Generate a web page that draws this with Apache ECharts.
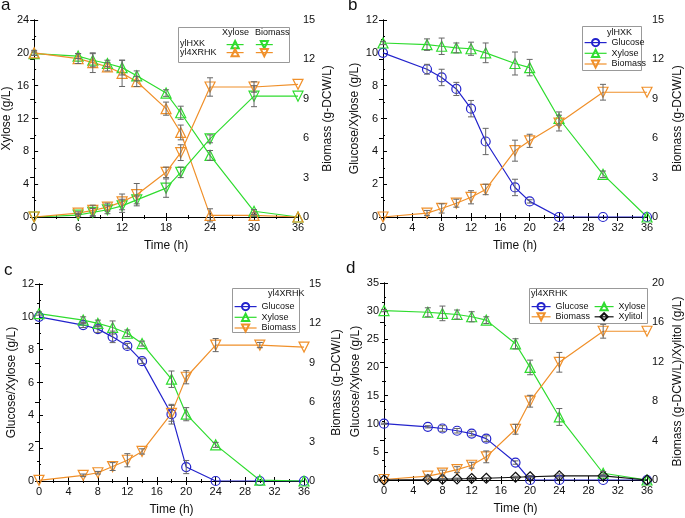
<!DOCTYPE html>
<html><head><meta charset="utf-8">
<script src="https://cdn.jsdelivr.net/npm/echarts@6/dist/echarts.min.js"></script>
<style>html,body{margin:0;padding:0;background:#fff}#c{width:685px;height:518px}</style>
</head><body><div id="c"></div>
<script>
const time = [0,6,8,10,12,14,18,20,24,30,36];

// Panel a
const aXylHXK    = [19.9,19.6,19.1,18.7,18.2,17.2,15.1,12.7,7.5,0.7,0];
const aXylHXKErr = [0.2,0.3,0.8,0.4,0.9,0.6,0.4,0.8,0.6,0.2,0];
const aXyl4XR    = [20.0,19.3,18.8,18.3,17.5,16.5,13.2,10.3,0.2,0.2,0];
const aXyl4XRErr = [0.3,0.6,1.2,0.5,1.6,0.6,0.8,0.9,0.8,0.1,0];
const aBioHXK    = [0,0.15,0.35,0.55,0.85,1.3,2.2,3.4,5.95,9.2,9.2];
const aBioHXKErr = [0,0.1,0.3,0.3,0.5,0.3,0.7,0.4,0.3,0.8,0];
const aBio4XR    = [0,0.3,0.5,0.75,1.15,1.7,3.4,4.9,9.9,9.9,10.1];
const aBio4XRErr = [0,0.1,0.4,0.3,0.6,0.85,0.4,0.6,0.7,0.4,0];

// Panel b (ylHXK)
const bGlc    = [10.0,9.0,8.5,7.8,6.6,4.6,1.8,0.95,0,0,0];
const bGlcErr = [0,0.3,0.5,0.4,0.5,0.8,0.5,0.1,0,0,0];
const bXyl    = [10.6,10.5,10.4,10.3,10.25,10.0,9.35,9.1,6.0,2.6,0];
const bXylErr = [0.1,0.35,0.5,0.3,0.4,0.6,0.7,0.5,0.4,0.2,0];
const bBio    = [0,0.3,0.65,1.05,1.5,2.1,5.05,5.8,7.15,9.5,9.5];
const bBioErr = [0,0.2,0.35,0.3,0.5,0.4,0.8,0.5,0.6,0.6,0];

// Panel c (yl4XRHK)
const cGlc    = [10.0,9.5,9.25,8.78,8.23,7.3,4.07,0.85,0,0,0];
const cGlcErr = [0,0.15,0.2,0.35,0.15,0.15,0.6,0.4,0,0,0];
const cXyl    = [10.2,9.8,9.6,9.35,9.0,8.37,6.2,4.07,2.2,0.05,0];
const cXylErr = [0.1,0.2,0.2,0.4,0.2,0.15,0.5,0.4,0.15,0,0];
const cBio    = [0.05,0.43,0.63,1.1,1.58,2.25,5.15,7.9,10.35,10.35,10.2];
const cBioErr = [0,0.1,0.1,0.3,0.5,0.2,0.6,0.5,0.5,0.2,0];

// Panel d (yl4XRHK)
const dGlc    = [10.0,9.45,9.15,8.75,8.25,7.35,3.1,0,0,0,0];
const dGlcErr = [0.1,0.2,0.5,0.4,0.4,0.5,0.3,0,0,0,0];
const dXyl    = [30.1,29.8,29.6,29.4,29.0,28.4,24.2,20.0,11.2,1.2,0];
const dXylErr = [0.2,0.8,1.3,0.8,0.9,0.6,0.9,1.3,1.5,0.3,0];
const dBio    = [0.05,0.4,0.7,1.05,1.5,2.35,5.15,8.0,11.95,15.1,15.1];
const dBioErr = [0,0.1,0.3,0.3,0.3,0.6,0.5,0.6,1.0,0.7,0];
const dXlt    = [0,0.05,0.08,0.1,0.15,0.18,0.28,0.33,0.42,0.42,0];
const dXltErr = [0,0.05,0.05,0.1,0.1,0.05,0.1,0.1,0.2,0.1,0];

const GREEN = '#2fdc2f', ORANGE = '#f0902a', BLUE = '#2323cc', BLACK = '#111111', ERR = '#666666';
const FONT = 'Liberation Sans, Arial, sans-serif';

function lineS(name, k, yi, data, color, symbol, rot) {
  return {
    type: 'line', name, xAxisIndex: 2*k, yAxisIndex: 2*k + yi,
    data: time.map((t, i) => [t, data[i]]),
    symbol, symbolSize: symbol === 'circle' ? 9 : 10, symbolRotate: rot || 0,
    color, lineStyle: { color, width: 1.2 },
    itemStyle: { color: 'rgba(255,255,255,0)', borderColor: color, borderWidth: 1.2 },
    showAllSymbol: true, z: 3, animation: false, emphasis: { disabled: true }
  };
}
function errS(k, yi, data, err) {
  return {
    type: 'custom', xAxisIndex: 2*k, yAxisIndex: 2*k + yi, z: 4, animation: false, silent: true,
    data: time.map((t, i) => [t, data[i], err[i]]),
    encode: { x: 0, y: 1 },
    renderItem: function (params, api) {
      const x = api.value(0), y = api.value(1), e = api.value(2);
      if (!e) return null;
      const hi = api.coord([x, y + e]), lo = api.coord([x, y - e]);
      const w = 3, st = { stroke: ERR, lineWidth: 1 };
      return { type: 'group', children: [
        { type: 'line', shape: { x1: hi[0], y1: hi[1], x2: lo[0], y2: lo[1] }, style: st },
        { type: 'line', shape: { x1: hi[0]-w, y1: hi[1], x2: hi[0]+w, y2: hi[1] }, style: st },
        { type: 'line', shape: { x1: lo[0]-w, y1: lo[1], x2: lo[0]+w, y2: lo[1] }, style: st }
      ]};
    }
  };
}

const grids = [
  { left: 33, top: 20, width: 265, height: 197 },
  { left: 383, top: 20, width: 265, height: 197 },
  { left: 39, top: 284, width: 265, height: 197 },
  { left: 384, top: 283, width: 265, height: 197 }
];
const xInt = [6, 4, 4, 4];
const yL = [{max: 24, interval: 4, name: 'Xylose (g/L)'}, {max: 12, interval: 2, name: 'Glucose/Xylose (g/L)'},
            {max: 12, interval: 2, name: 'Glucose/Xylose (g/L)'}, {max: 35, interval: 5, name: 'Glucose/Xylose (g/L)'}];
const yR = [{max: 15, interval: 3, name: 'Biomass (g-DCW/L)'}, {max: 15, interval: 3, name: 'Biomass (g-DCW/L)'},
            {max: 15, interval: 3, name: 'Biomass (g-DCW/L)'}, {max: 20, interval: 4, name: 'Biomass (g-DCW/L)/Xylitol (g/L)'}];
const rGap = [24, 25, 27, 25];

const axLine = { show: true, lineStyle: { color: '#000', width: 1 } };
const tick = { show: true, inside: true, length: 4, lineStyle: { color: '#000' } };
const minor = { show: true, splitNumber: 2, length: 2, lineStyle: { color: '#000' } };
const lbl = { fontSize: 11, color: '#111', fontFamily: FONT, margin: 5 };
const nameTs = { fontSize: 12, color: '#111', fontFamily: FONT };

const xAxis = [], yAxis = [];
grids.forEach((g, k) => {
  xAxis.push({ type: 'value', gridIndex: k, min: 0, max: 36, interval: xInt[k], position: 'bottom',
    axisLine: axLine, axisTick: tick, minorTick: minor, splitLine: { show: false }, axisLabel: lbl,
    name: 'Time (h)', nameLocation: 'middle', nameGap: 23, nameTextStyle: nameTs });
  xAxis.push({ type: 'value', gridIndex: k, min: 0, max: 36, interval: xInt[k], position: 'top',
    axisLine: axLine, axisTick: tick, minorTick: minor, splitLine: { show: false }, axisLabel: { show: false } });
  yAxis.push({ type: 'value', gridIndex: k, min: 0, max: yL[k].max, interval: yL[k].interval, position: 'left',
    axisLine: axLine, axisTick: tick, minorTick: minor, splitLine: { show: false }, axisLabel: lbl,
    name: yL[k].name, nameLocation: 'middle', nameGap: k === 1 || k === 3 ? 22 : 20, nameTextStyle: nameTs });
  yAxis.push({ type: 'value', gridIndex: k, min: 0, max: yR[k].max, interval: yR[k].interval, position: 'right',
    axisLine: axLine, axisTick: tick, minorTick: minor, splitLine: { show: false }, axisLabel: lbl,
    name: yR[k].name, nameLocation: 'middle', nameGap: rGap[k], nameTextStyle: nameTs });
});

const DOWN = 180;
const series = [
  // a
  lineS('a:ylHXK Xylose', 0, 0, aXylHXK, GREEN, 'triangle'),
  lineS('a:yl4XRHK Xylose', 0, 0, aXyl4XR, ORANGE, 'triangle'),
  lineS('a:ylHXK Biomass', 0, 1, aBioHXK, GREEN, 'triangle', DOWN),
  lineS('a:yl4XRHK Biomass', 0, 1, aBio4XR, ORANGE, 'triangle', DOWN),
  errS(0, 0, aXylHXK, aXylHXKErr), errS(0, 0, aXyl4XR, aXyl4XRErr),
  errS(0, 1, aBioHXK, aBioHXKErr), errS(0, 1, aBio4XR, aBio4XRErr),
  // b
  lineS('b:Glucose', 1, 0, bGlc, BLUE, 'circle'),
  lineS('b:Xylose', 1, 0, bXyl, GREEN, 'triangle'),
  lineS('b:Biomass', 1, 1, bBio, ORANGE, 'triangle', DOWN),
  errS(1, 0, bGlc, bGlcErr), errS(1, 0, bXyl, bXylErr), errS(1, 1, bBio, bBioErr),
  // c
  lineS('c:Glucose', 2, 0, cGlc, BLUE, 'circle'),
  lineS('c:Xylose', 2, 0, cXyl, GREEN, 'triangle'),
  lineS('c:Biomass', 2, 1, cBio, ORANGE, 'triangle', DOWN),
  errS(2, 0, cGlc, cGlcErr), errS(2, 0, cXyl, cXylErr), errS(2, 1, cBio, cBioErr),
  // d
  lineS('d:Glucose', 3, 0, dGlc, BLUE, 'circle'),
  lineS('d:Xylose', 3, 0, dXyl, GREEN, 'triangle'),
  lineS('d:Biomass', 3, 1, dBio, ORANGE, 'triangle', DOWN),
  lineS('d:Xylitol', 3, 1, dXlt, BLACK, 'diamond'),
  errS(3, 0, dGlc, dGlcErr), errS(3, 0, dXyl, dXylErr), errS(3, 1, dBio, dBioErr), errS(3, 1, dXlt, dXltErr)
];

const lgText = { fontSize: 9, color: '#111', fontFamily: FONT };
const strip = n => n.split(':')[1];
const lgBase = { padding: 0, selectedMode: false, itemHeight: 9, lineStyle: { width: 1.2 }, textStyle: lgText };
const legend = [
  Object.assign({}, lgBase, { data: ['a:ylHXK Xylose', 'a:ylHXK Biomass'], left: 226, top: 40, orient: 'horizontal', itemWidth: 17, itemGap: 11, formatter: () => '' }),
  Object.assign({}, lgBase, { data: ['a:yl4XRHK Xylose', 'a:yl4XRHK Biomass'], left: 226, top: 48, orient: 'horizontal', itemWidth: 17, itemGap: 11, formatter: () => '' }),
  Object.assign({}, lgBase, { data: ['b:Glucose', 'b:Xylose', 'b:Biomass'], left: 584, top: 38, orient: 'vertical', itemWidth: 22, itemGap: 1.5, formatter: strip }),
  Object.assign({}, lgBase, { data: ['c:Glucose', 'c:Xylose', 'c:Biomass'], left: 234, top: 302, orient: 'vertical', itemWidth: 22, itemGap: 1.5, formatter: strip }),
  Object.assign({}, lgBase, { data: ['d:Glucose', 'd:Biomass'], left: 531, top: 302, orient: 'vertical', itemWidth: 19, itemGap: 1, formatter: strip }),
  Object.assign({}, lgBase, { data: ['d:Xylose', 'd:Xylitol'], left: 594, top: 302, orient: 'vertical', itemWidth: 19, itemGap: 1, formatter: strip })
];

const gText = (x, y, t, size, align) => ({ type: 'text', left: x, top: y, z: 10,
  style: { text: t, fontSize: size, fontFamily: FONT, fill: '#111', textAlign: align || 'left' } });
const gBox = (x, y, w, h) => ({ type: 'rect', shape: { x, y, width: w, height: h }, z: 1,
  style: { fill: '#fff', stroke: '#999', lineWidth: 1 } });

const graphic = [
  gBox(178.5, 27.5, 111, 35), gBox(582.5, 26.5, 59, 44), gBox(232.5, 288.5, 67, 44), gBox(529.5, 288.5, 118, 35),
  gText(222, 28, 'Xylose', 9), gText(255, 28, 'Biomass', 9),
  gText(180, 39, 'ylHXK', 9), gText(180, 48, 'yl4XRHK', 9),
  gText(607, 28, 'ylHXK', 9), gText(268, 289, 'yl4XRHK', 9), gText(531, 289, 'yl4XRHK', 9),
  gText(1, -3, 'a', 17), gText(348, -3, 'b', 17), gText(4, 262, 'c', 17), gText(346, 260, 'd', 17)
];

const chart = echarts.init(document.getElementById('c'), null, { renderer: 'canvas' });
chart.setOption({ animation: false, backgroundColor: '#fff', grid: grids, xAxis, yAxis, series, legend, graphic });
</script></body></html>
